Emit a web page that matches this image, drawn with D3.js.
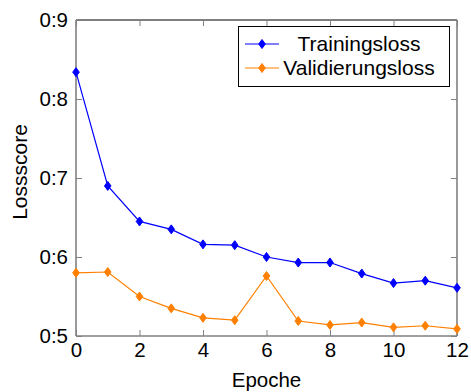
<!DOCTYPE html>
<html>
<head>
<meta charset="utf-8">
<script src="https://cdn.jsdelivr.net/npm/d3@7"></script>
<style>
  body { margin: 0; background: #fff; }
  text { font-family: "Liberation Sans", Arial, sans-serif; fill: #000; }
</style>
</head>
<body>
<svg id="chart" width="471" height="392"></svg>
<script>
// Datos
const epochs = [0, 1, 2, 3, 4, 5, 6, 7, 8, 9, 10, 11, 12];
const trainingLoss = [0.834, 0.690, 0.645, 0.635, 0.616, 0.615, 0.600, 0.593, 0.593, 0.579, 0.567, 0.570, 0.561];
const validationLoss = [0.580, 0.581, 0.550, 0.535, 0.523, 0.520, 0.576, 0.519, 0.514, 0.517, 0.511, 0.513, 0.509];
const xTicks = [0, 2, 4, 6, 8, 10, 12];
const yTicks = [0.5, 0.6, 0.7, 0.8, 0.9];
const seriesNames = ['Trainingsloss', 'Validierungsloss'];
const seriesColors = ['#0000ff', '#ff8000'];

const width = 471, height = 392;
const margin = { top: 20, right: 14, bottom: 56, left: 76 };
const svg = d3.select('#chart');

const x = d3.scaleLinear().domain([0, 12]).range([margin.left, width - margin.right]);
const y = d3.scaleLinear().domain([0.5, 0.9]).range([height - margin.bottom, margin.top]);

const fmt = d => d3.format('.1f')(d).replace('.', ':');
const axisGray = '#808080';

// Lineas de los ejes (caja)
svg.append('line')
    .attr('x1', x(0)).attr('x2', x(12))
    .attr('y1', y(0.9)).attr('y2', y(0.9))
    .attr('stroke', '#000').attr('stroke-width', 1);
svg.append('line')
    .attr('x1', x(0)).attr('x2', x(12))
    .attr('y1', y(0.5)).attr('y2', y(0.5))
    .attr('stroke', axisGray).attr('stroke-width', 1.6);
svg.append('line')
    .attr('x1', x(0)).attr('x2', x(0))
    .attr('y1', y(0.5)).attr('y2', y(0.9))
    .attr('stroke', axisGray).attr('stroke-width', 1.6);
svg.append('line')
    .attr('x1', x(12)).attr('x2', x(12))
    .attr('y1', y(0.5)).attr('y2', y(0.9))
    .attr('stroke', axisGray).attr('stroke-width', 1.6);

// Ticks hacia adentro en los cuatro lados
const bottomAxis = svg.append('g')
    .attr('transform', `translate(0,${y(0.5)})`)
    .call(d3.axisBottom(x).tickValues(xTicks).tickSizeInner(-6).tickSizeOuter(0).tickPadding(6).tickFormat(d3.format('d')));
const topAxis = svg.append('g')
    .attr('transform', `translate(0,${y(0.9)})`)
    .call(d3.axisTop(x).tickValues(xTicks).tickSizeInner(-6).tickSizeOuter(0).tickFormat(''));
const leftAxis = svg.append('g')
    .attr('transform', `translate(${x(0)},0)`)
    .call(d3.axisLeft(y).tickValues(yTicks).tickSizeInner(-6).tickSizeOuter(0).tickPadding(8).tickFormat(fmt));
const rightAxis = svg.append('g')
    .attr('transform', `translate(${x(12)},0)`)
    .call(d3.axisRight(y).tickValues(yTicks).tickSizeInner(-6).tickSizeOuter(0).tickFormat(''));

[bottomAxis, topAxis, leftAxis, rightAxis].forEach(g => {
    g.select('.domain').remove();
    g.selectAll('.tick line').attr('stroke', axisGray).attr('stroke-width', 1);
    g.selectAll('.tick text').attr('font-size', 20.5).attr('font-family', '"Liberation Sans", Arial, sans-serif').attr('fill', '#000');
});

// Etiquetas de los ejes
svg.append('text')
    .attr('x', (x(0) + x(12)) / 2)
    .attr('y', 387)
    .attr('text-anchor', 'middle')
    .attr('font-size', 20.5)
    .text('Epoche');
svg.append('text')
    .attr('transform', `translate(27,172) rotate(-90)`)
    .attr('text-anchor', 'middle')
    .attr('font-size', 21)
    .text('Lossscore');

// Marcador de diamante
const diamond = (cx, cy) => `M${cx},${cy - 4.5}L${cx + 3.3},${cy}L${cx},${cy + 4.5}L${cx - 3.3},${cy}Z`;

const line = d3.line()
    .x(d => x(d[0]))
    .y(d => y(d[1]));

[trainingLoss, validationLoss].forEach((values, i) => {
    const pts = epochs.map((e, j) => [e, values[j]]);
    svg.append('path')
        .datum(pts)
        .attr('d', line)
        .attr('fill', 'none')
        .attr('stroke', seriesColors[i])
        .attr('stroke-width', 1.2);
    svg.append('g')
        .selectAll('path')
        .data(pts)
        .enter().append('path')
        .attr('d', d => diamond(x(d[0]), y(d[1])))
        .attr('fill', seriesColors[i])
        .attr('stroke', seriesColors[i])
        .attr('stroke-width', 1);
});

// Leyenda
const legend = svg.append('g');
legend.append('rect')
    .attr('x', 238.5).attr('y', 26.5)
    .attr('width', 211).attr('height', 60)
    .attr('fill', '#fff')
    .attr('stroke', '#000')
    .attr('stroke-width', 1);
seriesNames.forEach((name, i) => {
    const ly = 44 + i * 24;
    legend.append('line')
        .attr('x1', 245).attr('x2', 279)
        .attr('y1', ly).attr('y2', ly)
        .attr('stroke', seriesColors[i])
        .attr('stroke-width', 1.2);
    legend.append('path')
        .attr('d', diamond(262, ly))
        .attr('fill', seriesColors[i])
        .attr('stroke', seriesColors[i]);
    legend.append('text')
        .attr('x', 359)
        .attr('y', ly + 7)
        .attr('text-anchor', 'middle')
        .attr('font-size', 21)
        .text(name);
});
</script>
</body>
</html>
